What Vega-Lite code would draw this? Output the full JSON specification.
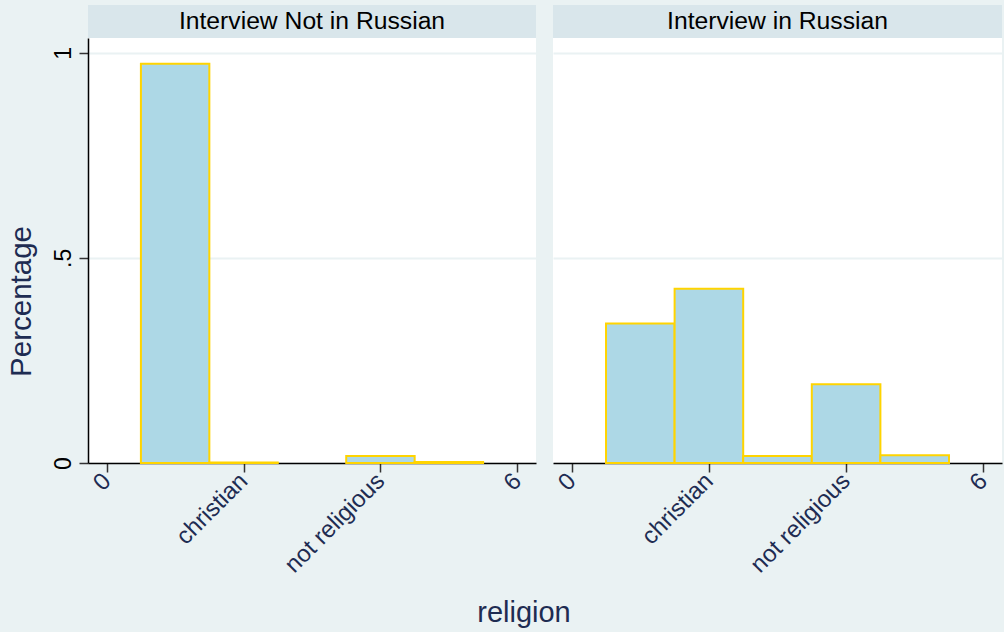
{
  "$schema": "https://vega.github.io/schema/vega-lite/v6.json",
  "background": "#eaf2f3",
  "padding": {"left": 6, "top": 5, "right": 2, "bottom": 4},
  "title": {
    "text": "religion",
    "orient": "bottom",
    "anchor": "middle",
    "fontSize": 29,
    "fontWeight": "normal",
    "font": "Liberation Sans",
    "color": "#1e2c52",
    "offset": 22,
    "dx": 20
  },
  "config": {
    "font": "Liberation Sans",
    "view": {"stroke": null, "fill": "white"}
  },
  "datasets": {
    "bars": [
      {"panel": "Interview Not in Russian", "religion": 1, "bin_start": 0.5, "bin_end": 1.5, "pct": 0.973},
      {"panel": "Interview Not in Russian", "religion": 2, "bin_start": 1.5, "bin_end": 2.5, "pct": 0.001},
      {"panel": "Interview Not in Russian", "religion": 4, "bin_start": 3.5, "bin_end": 4.5, "pct": 0.017},
      {"panel": "Interview Not in Russian", "religion": 5, "bin_start": 4.5, "bin_end": 5.5, "pct": 0.0025},
      {"panel": "Interview in Russian", "religion": 1, "bin_start": 0.5, "bin_end": 1.5, "pct": 0.340},
      {"panel": "Interview in Russian", "religion": 2, "bin_start": 1.5, "bin_end": 2.5, "pct": 0.425},
      {"panel": "Interview in Russian", "religion": 3, "bin_start": 2.5, "bin_end": 3.5, "pct": 0.017},
      {"panel": "Interview in Russian", "religion": 4, "bin_start": 3.5, "bin_end": 4.5, "pct": 0.192},
      {"panel": "Interview in Russian", "religion": 5, "bin_start": 4.5, "bin_end": 5.5, "pct": 0.019}
    ],
    "headers": [
      {"panel": "Interview Not in Russian"},
      {"panel": "Interview in Russian"}
    ]
  },
  "columns": 2,
  "bounds": "flush",
  "spacing": {"row": 0, "column": 17},
  "concat": [
    {
      "width": 448, "height": 33,
      "view": {"fill": "#d9e6eb", "stroke": null},
      "data": {"name": "headers"},
      "transform": [{"filter": "datum.panel === 'Interview Not in Russian'"}],
      "mark": {"type": "text", "fontSize": 24.7, "color": "black", "baseline": "middle"},
      "encoding": {"text": {"field": "panel", "type": "nominal"}}
    },
    {
      "width": 449, "height": 33,
      "view": {"fill": "#d9e6eb", "stroke": null},
      "data": {"name": "headers"},
      "transform": [{"filter": "datum.panel === 'Interview in Russian'"}],
      "mark": {"type": "text", "fontSize": 24.7, "color": "black", "baseline": "middle"},
      "encoding": {"text": {"field": "panel", "type": "nominal"}}
    },
    {
      "width": 448, "height": 425,
      "data": {"name": "bars"},
      "transform": [{"filter": "datum.panel === 'Interview Not in Russian'"}],
      "mark": {"type": "bar", "orient": "vertical", "fill": "#add8e6", "stroke": "#ffd400", "strokeWidth": 2},
      "encoding": {
        "x": {
          "field": "bin_start", "type": "quantitative",
          "scale": {"domain": [-0.2, 6.2], "nice": false, "zero": false},
          "axis": {
            "title": null, "values": [0, 2, 4, 6],
            "labelExpr": "datum.value == 2 ? 'christian' : datum.value == 4 ? 'not religious' : format(datum.value, 'd')",
            "labelAngle": -45, "labelAlign": "right", "labelBaseline": "middle",
            "labelFontSize": 24, "labelColor": "#1e2c52",
            "domainColor": "black", "domainWidth": 1.5, "tickColor": "#333333", "tickSize": 9, "tickWidth": 1.5,
            "grid": false, "labelPadding": 5
          }
        },
        "x2": {"field": "bin_end"},
        "y": {
          "field": "pct", "type": "quantitative",
          "scale": {"domain": [0, 1.036], "nice": false},
          "axis": {
            "title": "Percentage", "titleFontSize": 29.5, "titleFontWeight": "normal", "titleColor": "#1e2c52", "titlePadding": 16,
            "titleY": 263,
            "values": [0, 0.5, 1],
            "labelExpr": "datum.value == 0.5 ? '.5' : format(datum.value, 'd')",
            "labelAngle": -90, "labelFontSize": 23, "labelColor": "black", "labelPadding": 4,
            "domainColor": "black", "domainWidth": 1.5, "tickColor": "#333333", "tickSize": 9, "tickWidth": 1.5,
            "grid": true, "gridColor": "#eaf2f3", "gridWidth": 2
          }
        }
      }
    },
    {
      "width": 449, "height": 425,
      "data": {"name": "bars"},
      "transform": [{"filter": "datum.panel === 'Interview in Russian'"}],
      "mark": {"type": "bar", "orient": "vertical", "fill": "#add8e6", "stroke": "#ffd400", "strokeWidth": 2},
      "encoding": {
        "x": {
          "field": "bin_start", "type": "quantitative",
          "scale": {"domain": [-0.2, 6.2], "nice": false, "zero": false},
          "axis": {
            "title": null, "values": [0, 2, 4, 6],
            "labelExpr": "datum.value == 2 ? 'christian' : datum.value == 4 ? 'not religious' : format(datum.value, 'd')",
            "labelAngle": -45, "labelAlign": "right", "labelBaseline": "middle",
            "labelFontSize": 24, "labelColor": "#1e2c52",
            "domainColor": "black", "domainWidth": 1.5, "tickColor": "#333333", "tickSize": 9, "tickWidth": 1.5,
            "grid": false, "labelPadding": 5
          }
        },
        "x2": {"field": "bin_end"},
        "y": {
          "field": "pct", "type": "quantitative",
          "scale": {"domain": [0, 1.036], "nice": false},
          "axis": {
            "title": null, "values": [0, 0.5, 1],
            "labels": false, "ticks": false, "domain": false,
            "grid": true, "gridColor": "#eaf2f3", "gridWidth": 2
          }
        }
      }
    }
  ]
}
